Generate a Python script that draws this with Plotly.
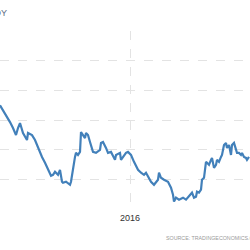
import plotly.graph_objects as go

dates = [
    "2015-04-16", "2015-04-22", "2015-04-30", "2015-05-06", "2015-05-12", "2015-05-18",
    "2015-05-22", "2015-05-26", "2015-06-01", "2015-06-09", "2015-06-11", "2015-06-19",
    "2015-06-25", "2015-07-01", "2015-07-09", "2015-07-15", "2015-07-21", "2015-07-27",
    "2015-07-31", "2015-08-04", "2015-08-10", "2015-08-14", "2015-08-18", "2015-08-20",
    "2015-08-26", "2015-08-30", "2015-09-03", "2015-09-05", "2015-09-09", "2015-09-13",
    "2015-09-15", "2015-09-19", "2015-09-23", "2015-09-25", "2015-09-29", "2015-10-03",
    "2015-10-05", "2015-10-09", "2015-10-13", "2015-10-19", "2015-10-25", "2015-11-02",
    "2015-11-04", "2015-11-08", "2015-11-14", "2015-11-18", "2015-11-24", "2015-12-02",
    "2015-12-04", "2015-12-12", "2015-12-14", "2015-12-22", "2015-12-24", "2015-12-28",
    "2016-01-03", "2016-01-09", "2016-01-17", "2016-01-23", "2016-01-29", "2016-02-02",
    "2016-02-06", "2016-02-12", "2016-02-18", "2016-02-26", "2016-02-28", "2016-03-03",
    "2016-03-09", "2016-03-17", "2016-03-23", "2016-03-27", "2016-03-29", "2016-04-02",
    "2016-04-08", "2016-04-16", "2016-04-22", "2016-04-28", "2016-05-04", "2016-05-08",
    "2016-05-12", "2016-05-14", "2016-05-18", "2016-05-22", "2016-05-24", "2016-05-28",
    "2016-06-01", "2016-06-03", "2016-06-07", "2016-06-11", "2016-06-13", "2016-06-17",
    "2016-06-21", "2016-06-23", "2016-06-27", "2016-07-01", "2016-07-03", "2016-07-07",
    "2016-07-11", "2016-07-13", "2016-07-17", "2016-07-21", "2016-07-23", "2016-07-27",
    "2016-07-31", "2016-08-02", "2016-08-06", "2016-08-10", "2016-08-12", "2016-08-16",
    "2016-08-20", "2016-08-22", "2016-08-26",
]

values = [
    1.050, 1.000, 0.919, 0.879, 0.818, 0.747,
    0.818, 0.869, 0.768, 0.697, 0.768, 0.747,
    0.697, 0.616, 0.525, 0.465, 0.394, 0.333,
    0.343, 0.374, 0.343, 0.394, 0.273, 0.263,
    0.273, 0.253, 0.242, 0.273, 0.414, 0.525,
    0.566, 0.545, 0.576, 0.778, 0.747, 0.717,
    0.768, 0.747, 0.677, 0.576, 0.566, 0.596,
    0.667, 0.677, 0.616, 0.566, 0.576, 0.495,
    0.545, 0.566, 0.495, 0.545, 0.566, 0.576,
    0.545, 0.475, 0.394, 0.364, 0.343, 0.364,
    0.323, 0.273, 0.242, 0.293, 0.364, 0.313,
    0.293, 0.273, 0.212, 0.141, 0.071, 0.111,
    0.091, 0.111, 0.091, 0.131, 0.162, 0.111,
    0.121, 0.172, 0.162, 0.192, 0.293, 0.313,
    0.475, 0.465, 0.444, 0.495, 0.515, 0.414,
    0.444, 0.495, 0.475, 0.525, 0.545, 0.646,
    0.667, 0.616, 0.646, 0.545, 0.646, 0.667,
    0.596, 0.566, 0.566, 0.545, 0.566, 0.525,
    0.515, 0.495, 0.525,
]

x_range = ["2015-04-16", "2016-08-28"]
x_tickvals = ["2016-01-01"]
x_ticktext = ["2016"]
title_text = "YOY"
source_text = "SOURCE: TRADINGECONOMICS.COM"

fig = go.Figure()
fig.add_trace(go.Scatter(
    x=dates, y=values, mode="lines",
    line=dict(color="#4280ba", width=2.2),
    hoverinfo="skip",
))

grid = "#e3e3e3"
fig.update_layout(
    width=250, height=250,
    margin=dict(l=0, r=0, t=31, b=41),
    paper_bgcolor="white", plot_bgcolor="white",
    showlegend=False,
    font=dict(family="Liberation Sans, Arial, sans-serif"),
    xaxis=dict(
        range=x_range, tickvals=x_tickvals, ticktext=x_ticktext,
        showgrid=True, gridcolor=grid, griddash="dash", gridwidth=1,
        zeroline=False, showline=False, ticks="",
        tickfont=dict(size=9, color="#333333", family="Liberation Sans, Arial, sans-serif"),
        ticklabelstandoff=2,
    ),
    yaxis=dict(
        range=[-0.004, 1.804], tick0=0, dtick=0.3,
        showgrid=True, gridcolor=grid, griddash="dash", gridwidth=1,
        zeroline=False, showline=False, showticklabels=False, ticks="",
    ),
    annotations=[
        dict(text=title_text, xref="paper", yref="paper", x=8.5 / 250, y=1 + (31 - 13) / 178,
             xanchor="right", yanchor="middle", showarrow=False,
             font=dict(size=9, color="#5b6b82", family="Liberation Sans, Arial, sans-serif")),
        dict(text=source_text, xref="paper", yref="paper", x=164 / 250, y=-(238 - 209) / 178,
             xanchor="left", yanchor="middle", showarrow=False,
             font=dict(size=5.3, color="#9a9a9a", family="Liberation Sans, Arial, sans-serif")),
    ],
)

fig.write_html("out.html")
